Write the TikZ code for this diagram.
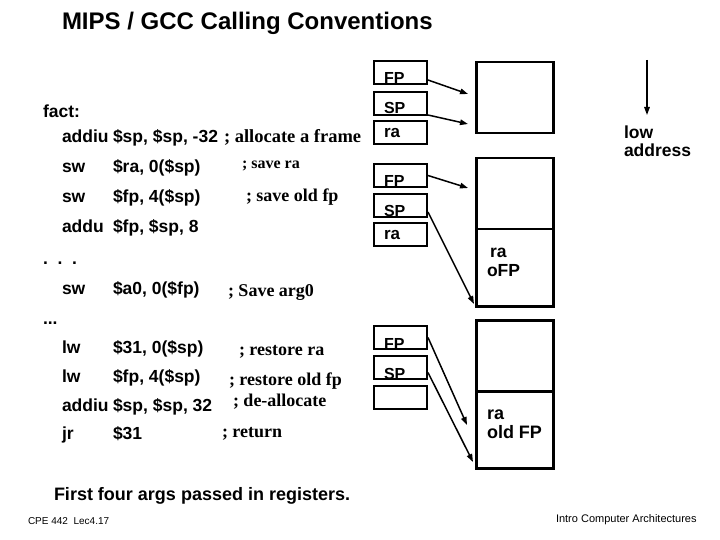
\documentclass[tikz,border=0pt]{standalone}
\usepackage{fontspec}
\setmainfont{Liberation Serif}
\setsansfont{Liberation Sans}
\usetikzlibrary{arrows.meta,calc}
\begin{document}
\begin{tikzpicture}[x=1pt,y=-1pt,
  txt/.style={anchor=base west, inner sep=0pt, outer sep=0pt},
  code/.style={txt, font=\sffamily\bfseries\fontsize{17.5}{19}\selectfont},
  cmt/.style={txt, font=\rmfamily\bfseries\fontsize{18}{20}\selectfont},
  reg/.style={draw, line width=2pt, minimum width=53pt, minimum height=23pt, inner sep=0pt, anchor=north west},
  reglab/.style={txt, font=\sffamily\bfseries\fontsize{16}{18}\selectfont},
  memlab/.style={txt, font=\sffamily\bfseries\fontsize{18}{20}\selectfont},
  frm/.style={draw, line width=2.5pt, minimum width=77pt, inner sep=0pt, anchor=north west},
  ptr/.style={line width=1.5pt, -{Triangle[length=8pt,width=5.5pt]}},
]
\useasboundingbox (0,0) rectangle (720,540);
\fill[white] (0,0) rectangle (720,540);

% title
\node[txt, font=\sffamily\bfseries\fontsize{24}{27}\selectfont] (title) at (62,30) {MIPS / GCC Calling Conventions};

% code
\node[code] (fact) at (43,118) {fact:};
\node[code] (m1) at (62,143) {addiu};  \node[code] (o1) at (113,143) {\$sp, \$sp, -32};
\node[cmt, font=\rmfamily\bfseries\fontsize{18.5}{20}\selectfont] (c1) at (224,143) {; allocate a frame};
\node[code] (m2) at (62,173) {sw};     \node[code] (o2) at (113,173) {\$ra, 0(\$sp)};
\node[cmt, font=\rmfamily\bfseries\fontsize{16}{18}\selectfont] (c2) at (242,169) {; save ra};
\node[code] (m3) at (62,203) {sw};     \node[code] (o3) at (113,203) {\$fp, 4(\$sp)};
\node[cmt] (c3) at (246,202) {; save old fp};
\node[code] (m4) at (62,233) {addu};   \node[code] (o4) at (113,233) {\$fp, \$sp, 8};
\node[code] (d1) at (43,264) {.\ \ .\ \ .};
\node[code] (m5) at (62,294) {sw};     \node[code] (o5) at (113,294) {\$a0, 0(\$fp)};
\node[cmt] (c5) at (228,296) {; Save arg0};
\node[code] (d2) at (43,324) {...};
\node[code] (m6) at (62,353) {lw};     \node[code] (o6) at (113,353) {\$31, 0(\$sp)};
\node[cmt] (c6) at (239,355) {; restore ra};
\node[code] (m7) at (62,382) {lw};     \node[code] (o7) at (113,382) {\$fp, 4(\$sp)};
\node[cmt] (c7) at (229,385) {; restore old fp};
\node[code] (m8) at (62,411) {addiu};  \node[code] (o8) at (113,411) {\$sp, \$sp, 32};
\node[cmt] (c8) at (233,406) {; de-allocate};
\node[code] (m9) at (62,439) {jr};     \node[code] (o9) at (113,439) {\$31};
\node[cmt] (c9) at (222,437) {; return};

% register boxes, group 1
\node[reglab] (lfp1) at (384,84) {FP};
\node[reglab] (lsp1) at (384,114) {SP};
\node[reglab, font=\sffamily\bfseries\fontsize{17}{19}\selectfont] (lra1) at (384,138) {ra};
\node[reg] (fp1) at (373,60) {};
\node[reg] (sp1) at (373,91) {};
\node[reg] (ra1) at (373,120) {};
% group 2
\node[reglab] (lfp2) at (384,187) {FP};
\node[reglab] (lsp2) at (384,216) {SP};
\node[reglab, font=\sffamily\bfseries\fontsize{17}{19}\selectfont] (lra2) at (384,240) {ra};
\node[reg] (fp2) at (373,163) {};
\node[reg] (sp2) at (373,193) {};
\node[reg] (ra2) at (373,222) {};
% group 3
\node[reglab] (lfp3) at (384,349) {FP};
\node[reglab] (lsp3) at (384,379) {SP};
\node[reg] (fp3) at (373,325) {};
\node[reg] (sp3) at (373,355) {};
\node[reg] (ex3) at (373,385) {};

% stack frames
\node[frm, minimum height=71pt] (fr1) at (475,61) {};
\node[frm, minimum height=71pt] (fr2a) at (475,157) {};
\node[frm, minimum height=77pt] (fr2b) at (475,228) {};
\node[frm, minimum height=71pt] (fr3a) at (475,319) {};
\node[frm, minimum height=77pt] (fr3b) at (475,390) {};

\node[memlab, font=\sffamily\bfseries\fontsize{17.5}{19}\selectfont] (m2ra) at (490,258) {ra};
\node[memlab, font=\sffamily\bfseries\fontsize{17.5}{19}\selectfont] (m2fp) at (487,276) {oFP};
\node[memlab] (m3ra) at (487,419) {ra};
\node[memlab] (m3fp) at (487,438) {old FP};

% pointers
\coordinate (e1) at (468,94);
\coordinate (e2) at (468,124);
\coordinate (e3) at (468,188);
\coordinate (e4) at (474,304);
\coordinate (e5) at (467,425);
\coordinate (e6) at (473,462);
\draw[ptr] ($(fp1.south east)+(0,-5)$) -- (e1);
\draw[ptr] ($(sp1.south east)+(0,-1)$) -- (e2);
\draw[ptr] (fp2.east) -- (e3);
\draw[ptr] ($(sp2.south east)+(0,-6)$) -- (e4);
\draw[ptr] (fp3.east) -- (e5);
\draw[ptr] ($(sp3.east)+(0,5)$) -- (e6);

% low address
\coordinate (la1) at (647,60);
\coordinate (la2) at (647,115);
\draw[ptr] (la1) -- (la2);
\node[memlab, font=\sffamily\bfseries\fontsize{17.5}{19}\selectfont] (low) at (624,139) {low};
\node[memlab, font=\sffamily\bfseries\fontsize{17.5}{19}\selectfont] (addr) at (624,157) {address};

% footer
\node[txt, font=\sffamily\bfseries\fontsize{18}{20}\selectfont] (note) at (54,500) {First four args passed in registers.};
\node[txt, font=\sffamily\fontsize{10}{12}\selectfont] (cpe) at (28,524) {CPE 442\ \ Lec4.17};
\node[txt, font=\sffamily\fontsize{11}{13}\selectfont] (intro) at (556,522) {Intro Computer Architectures};
\end{tikzpicture}
\end{document}
